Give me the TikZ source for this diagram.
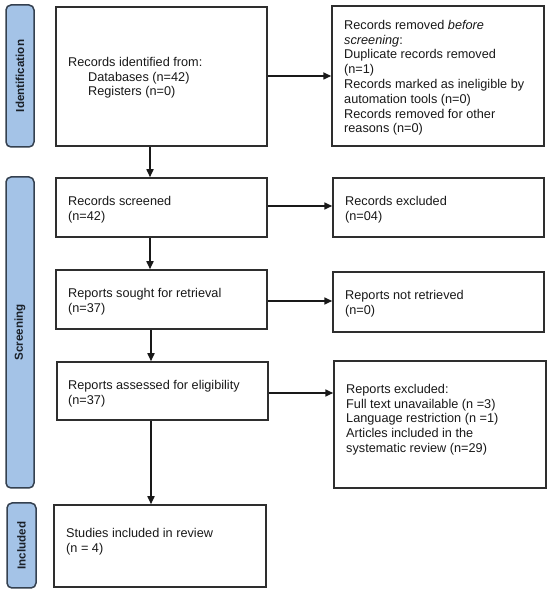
\documentclass[tikz,border=0pt]{standalone}
\usepackage{fontspec}
\setmainfont{Liberation Sans}
\usetikzlibrary{arrows.meta}
\definecolor{labfill}{HTML}{A4C3E7}
\definecolor{labdraw}{HTML}{34404F}
\definecolor{boxdraw}{HTML}{2E2E2E}
\tikzset{
  box/.style={draw=boxdraw, line width=1.5pt, fill=white, inner sep=0pt},
  txt/.style={anchor=north west, inner sep=0pt, align=left, font=\fontsize{12.7}{14.8}\selectfont, text=black!90},
  phase/.style={draw=labdraw, line width=1.5pt, fill=labfill, rounded corners=5pt, inner sep=0pt},
  phasetxt/.style={rotate=90, font=\fontsize{11.6}{13}\selectfont\bfseries, text=labdraw!50!black},
  arr/.style={draw=black!90, line width=1.6pt, -{Triangle[length=8pt,width=7pt]}}
}
\begin{document}
\begin{tikzpicture}[x=1pt,y=1pt]
\useasboundingbox (0,0) rectangle (550,594);
% phase labels
\node[phase, minimum width=28pt, minimum height=142pt] (L1) at (20,518) {};
\node[phasetxt] (L1t) at (L1.center) {Identification};
\node[phase, minimum width=28pt, minimum height=311pt] (L2) at (20,261.5) {};
\node[phasetxt] (L2t) at (L2.center) {Screening};
\node[phase, minimum width=29pt, minimum height=85pt] (L3) at (21.5,48.5) {};
\node[phasetxt] (L3t) at (L3.center) {Included};
% boxes
\node[box, minimum width=211pt, minimum height=139pt] (b1) at (161.5,517.5) {};
\node[box, minimum width=212pt, minimum height=140pt] (rm) at (438,518) {};
\node[box, minimum width=211pt, minimum height=59pt] (b2) at (161.5,386.5) {};
\node[box, minimum width=211pt, minimum height=59pt] (ex) at (438.5,386.5) {};
\node[box, minimum width=211pt, minimum height=59pt] (b3) at (161.5,294.5) {};
\node[box, minimum width=211pt, minimum height=60pt] (nr) at (438.5,292) {};
\node[box, minimum width=211pt, minimum height=58pt] (b4) at (162.5,203) {};
\node[box, minimum width=212pt, minimum height=127pt] (rx) at (440,169.5) {};
\node[box, minimum width=212pt, minimum height=82pt] (b5) at (160,48) {};
% texts
\node[txt] (t1) at (68,537) {Records identified from:\\\hspace*{20pt}Databases (n=42)\\\hspace*{20pt}Registers (n=0)};
\node[txt] (trm) at (344,574) {Records removed \textit{before}\\\textit{screening}:\\Duplicate records removed\\(n=1)\\Records marked as ineligible by\\automation tools (n=0)\\Records removed for other\\reasons (n=0)};
\node[txt] (t2) at (68,398) {Records screened\\(n=42)};
\node[txt] (tex) at (345,398) {Records excluded\\(n=04)};
\node[txt] (t3) at (68,306) {Reports sought for retrieval\\(n=37)};
\node[txt] (tnr) at (345,304) {Reports not retrieved\\(n=0)};
\node[txt] (t4) at (68,214) {Reports assessed for eligibility\\(n=37)};
\node[txt] (trx) at (346,210) {Reports excluded:\\Full text unavailable (n =3)\\Language restriction (n =1)\\Articles included in the\\systematic review (n=29)};
\node[txt] (t5) at (66,66) {Studies included in review\\(n = 4)};
% connectors
\draw[arr] ([yshift=0.5pt]b1.east) -- ([yshift=0.5pt]b1.east -| rm.west);
\draw[arr] ([yshift=1.5pt]b2.east) -- ([yshift=1.5pt]b2.east -| ex.west);
\draw[arr] ([yshift=-1.5pt]b3.east) -- ([yshift=-1.5pt]b3.east -| nr.west);
\draw[arr] ([yshift=-2pt]b4.east) -- ([yshift=-2pt]b4.east -| rx.west);
\draw[arr] ([xshift=-11.5pt]b1.south) -- ([xshift=-11.5pt]b1.south |- b2.north);
\draw[arr] ([xshift=-11.5pt]b2.south) -- ([xshift=-11.5pt]b2.south |- b3.north);
\draw[arr] ([xshift=-10.5pt]b3.south) -- ([xshift=-10.5pt]b3.south |- b4.north);
\draw[arr] ([xshift=-11.5pt]b4.south) -- ([xshift=-11.5pt]b4.south |- b5.north);
\end{tikzpicture}
\end{document}
